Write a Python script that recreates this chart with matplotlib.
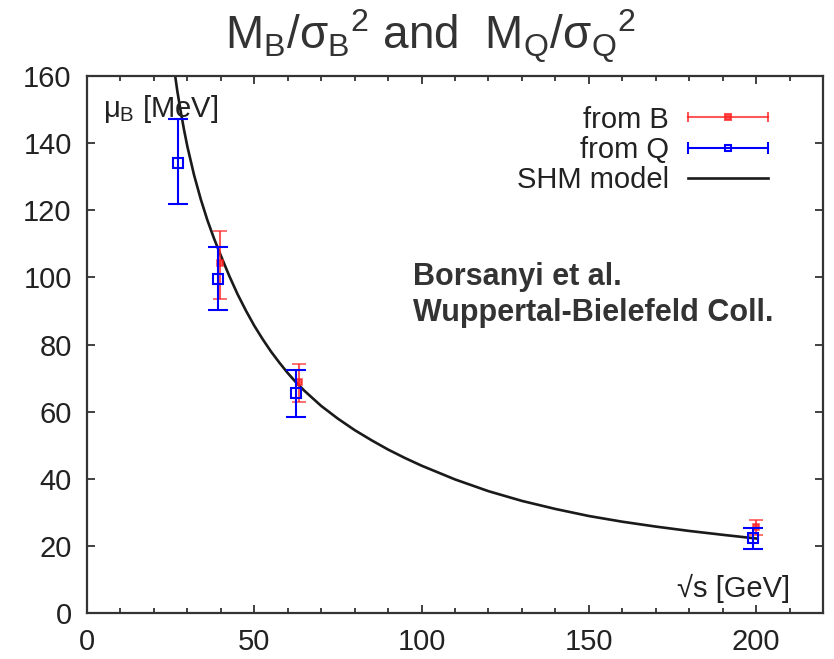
import matplotlib
matplotlib.use("Agg")
import matplotlib.pyplot as plt
from matplotlib.lines import Line2D
from matplotlib.legend_handler import HandlerBase
from matplotlib.ticker import MultipleLocator

# ---- data ----
sqrt_s_B = [39.8, 63.4, 200.1]
mu_B_fromB = [104.2, 68.8, 25.5]
err_lo_B = [10.5, 5.9, 2.2]
err_hi_B = [9.6, 5.5, 2.3]

sqrt_s_Q = [27.2, 39.3, 62.4, 199.0]
mu_B_fromQ = [134.0, 99.6, 65.6, 22.2]
err_lo_Q = [12.1, 9.2, 7.2, 3.0]
err_hi_Q = [13.2, 9.4, 6.9, 3.0]

shm_x = [26, 27, 28, 29, 30, 32, 34, 36, 38, 40, 42.5, 45, 47.5, 50, 52.5, 55,
         57.5, 60, 62.5, 65, 70, 75, 80, 85, 90, 95, 100, 110, 120, 130, 140,
         150, 160, 170, 180, 190, 200]
shm_y = [162.5, 155.5, 149.5, 144.0, 139.0, 130.5, 123.3, 117.0, 111.5, 106.5,
         100.5, 95.0, 90.1, 85.6, 81.6, 77.9, 74.6, 71.5, 68.7, 66.2, 61.7, 57.9,
         54.5, 51.5, 48.7, 46.2, 43.9, 39.8, 36.3, 33.4, 31.0, 28.9, 27.2, 25.75,
         24.45, 23.3, 22.2]

x_ticks = [0, 50, 100, 150, 200]
y_ticks = [0, 20, 40, 60, 80, 100, 120, 140, 160]

plt.rcParams['font.family'] = ['Liberation Sans', 'DejaVu Sans']
plt.rcParams['mathtext.fontset'] = 'custom'
plt.rcParams['mathtext.rm'] = 'Liberation Sans'
plt.rcParams['mathtext.it'] = 'Liberation Sans'
plt.rcParams['mathtext.bf'] = 'Liberation Sans:bold'

FS = 21
TXT = '#222222'
RED = '#ff2020'
BLUE = '#0000ff'


class HErrHandler(HandlerBase):
    """gnuplot-like legend sample: horizontal bar with end caps and a centre marker."""
    def __init__(self, color, mfc, ms, alpha, capsize):
        super().__init__()
        self.c, self.mfc, self.ms, self.alpha, self.cap = color, mfc, ms, alpha, capsize

    def create_artists(self, legend, orig_handle, xdescent, ydescent, width,
                       height, fontsize, trans):
        y = height / 2 - ydescent
        x0, x1 = -xdescent, -xdescent + width
        bar = Line2D([x0, x1], [y, y], color=self.c, lw=1.5, alpha=self.alpha)
        caps = Line2D([x0, x1], [y, y], ls='none', marker='|', ms=self.cap,
                      mew=1.5, color=self.c, alpha=self.alpha)
        mk = Line2D([(x0 + x1) / 2], [y], ls='none', marker='s', ms=self.ms,
                    mfc=self.mfc, mec=self.c, mew=1.5, alpha=self.alpha)
        for a in (bar, caps, mk):
            a.set_transform(trans)
        return [bar, caps, mk]


fig = plt.figure(figsize=(8.34, 6.59), dpi=100)
ax = fig.add_axes([87/834, 1-613/659, (823-87)/834, (613-76)/659])

# SHM model line
shm_line, = ax.plot(shm_x, shm_y, color='#1a1a1a', lw=1.9, zorder=2)

# from B (red)
ax.errorbar(sqrt_s_B, mu_B_fromB, yerr=[err_lo_B, err_hi_B], fmt='s',
            color=RED, ms=5, mew=1.2, elinewidth=1.5, capsize=5,
            capthick=1.5, alpha=0.75, zorder=3)
# from Q (blue)
ax.errorbar(sqrt_s_Q, mu_B_fromQ, yerr=[err_lo_Q, err_hi_Q], fmt='s',
            color=BLUE, mfc='none', ms=6.5, mew=1.5, elinewidth=1.5,
            capsize=7, capthick=1.5, zorder=4)

proxyB = Line2D([], [])
proxyQ = Line2D([], [])
leg = ax.legend([proxyB, proxyQ, shm_line], ['from B', 'from Q', 'SHM model'],
                loc='upper right', bbox_to_anchor=(0.925, 0.945),
                frameon=False, markerfirst=False, fontsize=FS,
                handlelength=2.75, handletextpad=0.65, labelspacing=0.08,
                borderpad=0, borderaxespad=0,
                handler_map={proxyB: HErrHandler(RED, RED, 5, 0.75, 7),
                             proxyQ: HErrHandler(BLUE, 'none', 5, 1.0, 8)})
for t in leg.get_texts():
    t.set_color(TXT)

ax.set_xlim(0, 220)
ax.set_ylim(0, 160)
ax.set_xticks(x_ticks)
ax.set_yticks(y_ticks)
ax.xaxis.set_minor_locator(MultipleLocator(10))
ax.tick_params(which='both', direction='in', top=True, right=True,
               colors='#333333', width=1.3)
ax.tick_params(which='major', length=6, labelsize=FS, labelcolor=TXT, pad=11)
ax.tick_params(which='minor', length=3.5)
for s in ax.spines.values():
    s.set_color('#333333')
    s.set_linewidth(1.6)

# axis labels inside the frame
ax.text((103-87)/736, (613-117)/537, r'$\mu_{\rm B}$ [MeV]', transform=ax.transAxes,
        fontsize=FS, color=TXT, ha='left', va='baseline')
ax.text((790-87)/736, (613-597)/537, '√s [GeV]', transform=ax.transAxes,
        fontsize=FS, color=TXT, ha='right', va='baseline',
        family=['Liberation Sans', 'DejaVu Sans'])

# annotation
ax.text((413-87)/736, (613-321)/537, 'Borsanyi et al.\nWuppertal-Bielefeld Coll.',
        transform=ax.transAxes, fontsize=22, fontweight='bold', color='#333333',
        ha='left', va='baseline', linespacing=1.25)

# title
fig.text(431/834, 1-36/659, r'M$_{\rm B}$/σ$_{\rm B}$$^{2}$ and  M$_{\rm Q}$/σ$_{\rm Q}$$^{2}$',
         fontsize=33, color='#333333', ha='center', va='center')

fig.savefig('out.png', dpi=100, facecolor='white')
